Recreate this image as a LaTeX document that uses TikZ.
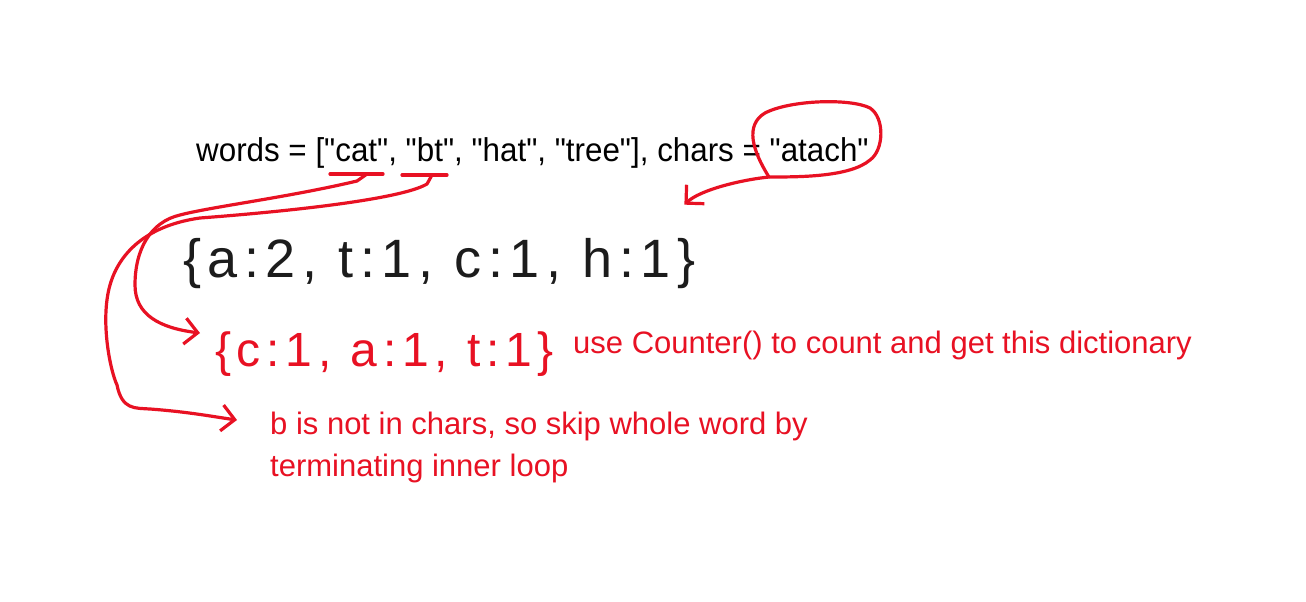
\documentclass[tikz,border=0pt]{standalone}
\usepackage{fontspec}
\setmainfont{Liberation Sans}
\newfontfamily\printfont[FakeStretch=0.95]{Liberation Sans}
\newfontfamily\notefont{Liberation Sans}
\newfontfamily\handfont[LetterSpace=12]{Liberation Sans}
\usetikzlibrary{arrows.meta}
\definecolor{ink}{HTML}{E81123}
\definecolor{pen}{HTML}{1C1C1C}

\begin{document}
\begin{tikzpicture}[x=1pt,y=-1pt,
    stroke/.style={ink,line width=3.2pt,line cap=round,line join=round},
    tip/.style={-{Straight Barb[length=13pt,width=26pt]}}]
    \fill[white] (0,0) rectangle (1306,602);
    \useasboundingbox (0,0) rectangle (1306,602);

    % 题目
    \node[anchor=base west,inner sep=0,font=\printfont\fontsize{33}{40}\selectfont] (words) at (196,161)
        {words = ["cat", "bt", "hat", "tree"], chars = "atach"};

    % 手写字典
    \node[anchor=base west,inner sep=0,pen,font=\handfont\fontsize{54}{60}\selectfont] (all) at (183,277)
        {\{a:2, t:1, c:1, h:1\}};
    \node[anchor=base west,inner sep=0,ink,font=\handfont\fontsize{48}{56}\selectfont] (sub) at (215,366)
        {\{c:1, a:1, t:1\}};

    % 说明
    \node[anchor=base west,inner sep=0,ink,font=\notefont\fontsize{31}{40}\selectfont] (use) at (573,353)
        {use Counter() to count and get this dictionary};
    \node[anchor=north west,align=left,inner sep=0,ink,font=\notefont\fontsize{31}{42}\selectfont] (skip) at (270,412)
        {b is not in chars, so skip whole word by\\terminating inner loop};

    % 下划线
    \coordinate (catmark) at (367,174);
    \coordinate (btmark) at (432,175);
    \draw[stroke] (330,174) -- (383,174);
    \draw[stroke] (402,175) -- (447,175);

    % 圈出 atach
    \coordinate (ring) at (769,177);
    \draw[stroke] (ring) .. controls (752,150) and (745,125) .. (765,113)
        .. controls (790,100) and (850,98) .. (870,108)
        .. controls (885,118) and (884,150) .. (870,160)
        .. controls (850,177) and (800,177) .. (ring);

    % 箭头
    \draw[stroke,tip] (ring) .. controls (740,180) and (700,190) .. ([xshift=-11pt,yshift=33pt]all.north east);
    \draw[stroke,tip] (catmark) -- (357,181) .. controls (290,197) and (210,207) .. (180,215)
        .. controls (150,222) and (135,250) .. (135,285)
        .. controls (135,315) and (160,328) .. ([xshift=-15pt,yshift=-2pt]sub.north west);
    \draw[stroke,tip] (btmark) -- (427,184) .. controls (400,200) and (280,212) .. (200,218)
        .. controls (150,225) and (120,250) .. (110,285)
        .. controls (100,320) and (110,370) .. (117,385)
        .. controls (122,410) and (135,408) .. (150,409)
        .. controls (190,412) and (215,417) .. ([xshift=-33pt,yshift=-8pt]skip.north west);
\end{tikzpicture}
\end{document}
